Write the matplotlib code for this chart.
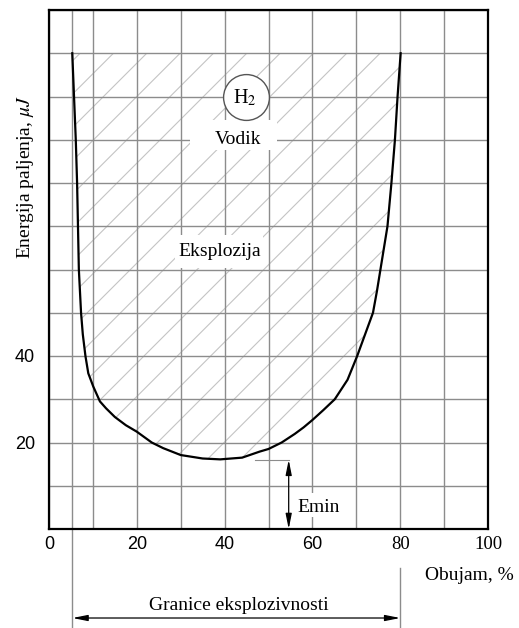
import matplotlib
matplotlib.use("Agg")
import matplotlib.pyplot as plt
import matplotlib.transforms as mtransforms
from matplotlib.patches import Rectangle

# ---------------- data ----------------
curve_x = [5.3, 5.7, 6.1, 6.4, 6.6, 6.8, 7.3, 7.7, 8.3, 8.95, 10.1, 11.6, 13.0, 15.0,
           17.5, 20.0, 23.4, 26.0, 30.0, 35.0, 39.0, 44.0, 48.0, 50.0, 53.0, 56.0,
           58.0, 60.0, 62.5, 65.1, 68.0, 70.2, 72.0, 73.8, 74.7, 75.5, 77.1, 78.0,
           78.8, 79.4, 80.1]
curve_y = [110, 100, 90, 80, 70, 60, 50, 45, 40, 36.0, 32.9, 29.5, 27.9, 25.9,
           24.0, 22.5, 20.0, 18.7, 17.1, 16.3, 16.1, 16.5, 17.9, 18.5, 20.0, 22.0,
           23.5, 25.2, 27.5, 30.0, 34.5, 40.0, 45.0, 50.0, 55.0, 60.0, 70.0, 80.0,
           90.0, 100.0, 110.0]

x_ticks = [0, 10, 20, 30, 40, 50, 60, 70, 80, 90, 100]
x_ticklabels = ["0", "", "20", "", "40", "", "60", "", "80", "", "100"]
y_ticks = [0, 10, 20, 30, 40, 50, 60, 70, 80, 90, 100, 110, 120]
y_ticklabels = ["", "", "20", "", "40", "", "", "", "", "", "", "", ""]

lower_limit = 5.35
upper_limit = 80.0
e_min = 16.0
e_min_x = 54.6

# ---------------- style ----------------
plt.rcParams["mathtext.fontset"] = "stix"
plt.rcParams["hatch.linewidth"] = 0.8
SERIF = "Liberation Serif"
SANS = "Liberation Sans"
GRID = "#8c8c8c"

fig = plt.figure(figsize=(5.19, 6.28), dpi=100)
ax = fig.add_axes([49 / 519, 99 / 628, 439 / 519, 519 / 628])
ax.set_xlim(0, 100)
ax.set_ylim(0, 120)

ax.set_xticks(x_ticks)
ax.set_xticklabels(x_ticklabels)
ax.set_yticks(y_ticks)
ax.set_yticklabels(y_ticklabels)
ax.tick_params(length=0, labelsize=13)
ax.tick_params(axis="x", pad=5)
ax.tick_params(axis="y", pad=10)
for lab in ax.get_xticklabels():
    lab.set_fontfamily(SERIF if lab.get_text() in ("80", "100") else SANS)
    if lab.get_text() in ("80", "100"):
        lab.set_fontsize(13.5)
for lab in ax.get_yticklabels():
    lab.set_fontfamily(SANS)

ax.grid(True, color=GRID, linewidth=1.0)
for sp in ax.spines.values():
    sp.set_linewidth(1.6)
    sp.set_color("black")
    sp.set_zorder(6)

# hatched explosion region
ax.fill(curve_x, curve_y, facecolor="none", edgecolor="#c4c4c4", hatch="/",
        linewidth=0, zorder=1)

# lower limit vertical line (through plot and below)
trans = mtransforms.blended_transform_factory(ax.transData, ax.transAxes)
ax.plot([lower_limit, lower_limit], [1, -0.19], color=GRID, lw=1.0,
        transform=trans, clip_on=False, zorder=1.6)
ax.plot([upper_limit, upper_limit], [-0.075, -0.19], color=GRID, lw=1.0,
        transform=trans, clip_on=False, zorder=1.6)

# curve
ax.plot(curve_x, curve_y, color="black", lw=1.6, zorder=4,
        solid_joinstyle="round")

# white label boxes
ax.add_patch(Rectangle((32.1, 87.6), 19.8, 7.0, facecolor="white", edgecolor="none", zorder=2))
ax.add_patch(Rectangle((28.7, 60.3), 20.0, 7.7, facecolor="white", edgecolor="none", zorder=2))
ax.add_patch(Rectangle((55.5, 2.8), 11.2, 5.5, facecolor="white", edgecolor="none", zorder=2))

# H2 circle
ax.plot([44.8], [100], marker="o", ms=33, mfc="white", mec="#555555", mew=1.0,
        zorder=3, linestyle="none")
ax.text(44.7, 98.4, r"H$_{\mathrm{2}}$", family=SERIF, fontsize=14.5,
        ha="center", va="baseline", zorder=5)
ax.text(43.1, 89.1, "Vodik", family=SERIF, fontsize=14, ha="center",
        va="baseline", zorder=5)
ax.text(38.9, 63.2, "Eksplozija", family=SERIF, fontsize=14, ha="center",
        va="baseline", zorder=5)

# Emin annotation
ax.plot([47, e_min_x], [e_min, e_min], color=GRID, lw=0.8, zorder=3)
ax.annotate("", xy=(e_min_x, 0), xytext=(e_min_x, e_min),
            arrowprops=dict(arrowstyle="<|-|>,head_length=0.9,head_width=0.18",
                            color="black", lw=0.9, shrinkA=0, shrinkB=0),
            zorder=5)
ax.text(61.4, 4.0, "Emin", family=SERIF, fontsize=14, ha="center",
        va="baseline", zorder=5)

# explosion limits annotation below axes
ax.annotate("", xy=(lower_limit, -0.1715), xytext=(upper_limit, -0.1715),
            xycoords=trans, textcoords=trans,
            arrowprops=dict(arrowstyle="<|-|>,head_length=0.9,head_width=0.18",
                            color="black", lw=0.9, shrinkA=0, shrinkB=0),
            annotation_clip=False)
fig.text(239 / 519, 18 / 628, "Granice eksplozivnosti", family=SERIF,
         fontsize=14, ha="center", va="baseline")
fig.text(425 / 519, 48 / 628, "Obujam, %", family=SERIF, fontsize=14,
         ha="left", va="baseline")
fig.text(26 / 519, 1 - 176.5 / 628, r"Energija paljenja, $\mu J$", family=SERIF,
         fontsize=14, rotation=90, ha="center", va="center")

fig.savefig("out.png", dpi=100)
